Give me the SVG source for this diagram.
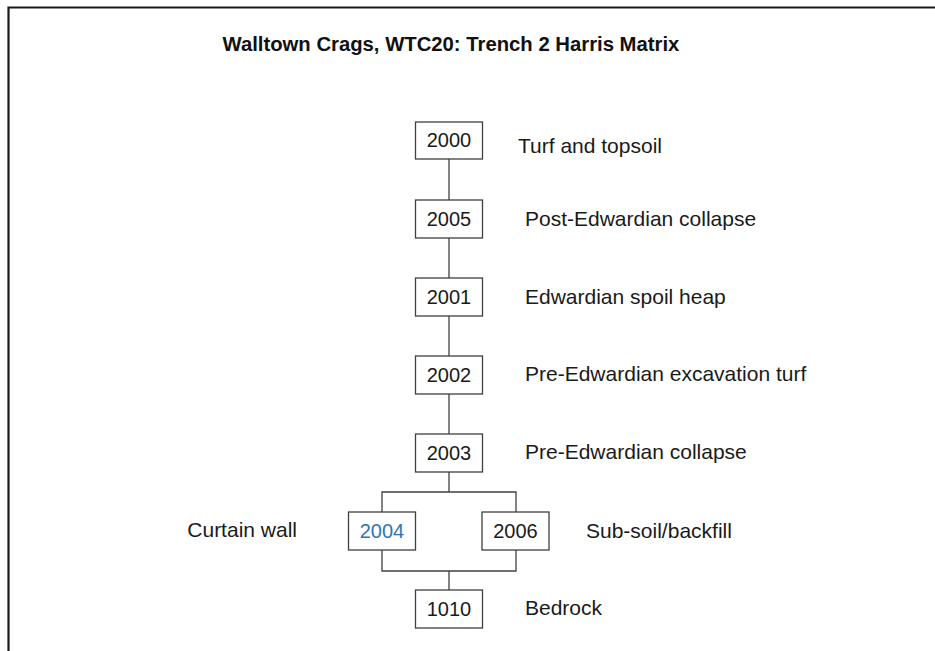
<svg xmlns="http://www.w3.org/2000/svg" width="935" height="651" viewBox="0 0 935 651">
<style>
.t{font-family:"Liberation Sans",Arial,sans-serif;font-size:21px;fill:#1a1a1a}
.n{font-family:"Liberation Sans",Arial,sans-serif;font-size:20px;fill:#1a1a1a;text-anchor:middle}
.title{font-family:"Liberation Sans",Arial,sans-serif;font-size:20.3px;font-weight:bold;fill:#111}
.box{fill:#fff;stroke:#404040;stroke-width:1.3}
.c{fill:none;stroke:#404040;stroke-width:1.3}
</style>
<rect width="935" height="651" fill="#fff"/>
<path d="M8.5,651 V7.5 H935" fill="none" stroke="#1a1a1a" stroke-width="2.2"/>
<text class="title" x="222.5" y="50.5">Walltown Crags, WTC20: Trench 2 Harris Matrix</text>
<g id="connectors">
<path class="c" d="M449,159 V200 M449,238 V278 M449,316 V356 M449,394 V434 M449,472 V492 M382,512 V492 H516 V512 M382,550 V571 H516 V550 M449,571 V590"/>
</g>
<g id="n2000"><rect class="box" x="415.5" y="122" width="67" height="37"/><text class="n" x="449" y="147">2000</text><text class="t" x="518" y="153">Turf and topsoil</text></g>
<g id="n2005"><rect class="box" x="415.5" y="200" width="67" height="38"/><text class="n" x="449" y="226">2005</text><text class="t" x="525" y="226">Post-Edwardian collapse</text></g>
<g id="n2001"><rect class="box" x="415.5" y="278" width="67" height="38"/><text class="n" x="449" y="304">2001</text><text class="t" x="525" y="304">Edwardian spoil heap</text></g>
<g id="n2002"><rect class="box" x="415.5" y="356" width="67" height="38"/><text class="n" x="449" y="382">2002</text><text class="t" x="525" y="381">Pre-Edwardian excavation turf</text></g>
<g id="n2003"><rect class="box" x="415.5" y="434" width="67" height="38"/><text class="n" x="449" y="460">2003</text><text class="t" x="525" y="459">Pre-Edwardian collapse</text></g>
<g id="n2004"><rect class="box" x="348.5" y="512" width="67" height="38"/><text class="n" x="382" y="538" style="fill:#2e75b6">2004</text><text class="t" x="297" y="537" text-anchor="end">Curtain wall</text></g>
<g id="n2006"><rect class="box" x="482" y="512" width="67" height="38"/><text class="n" x="515.5" y="538">2006</text><text class="t" x="586" y="538">Sub-soil/backfill</text></g>
<g id="n1010"><rect class="box" x="415.5" y="590" width="67" height="38"/><text class="n" x="449" y="616">1010</text><text class="t" x="525" y="615">Bedrock</text></g>
</svg>
